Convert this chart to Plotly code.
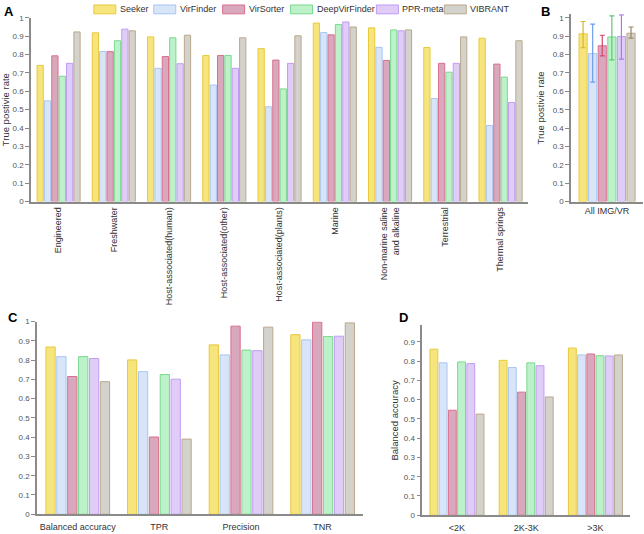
import plotly.graph_objects as go

W, H = 644, 534

tools = ["Seeker", "VirFinder", "VirSorter", "DeepVirFinder", "PPR-meta", "VIBRANT"]
fills = ["#f6e47c", "#d8e5f8", "#d9a8bc", "#bdf1c9", "#dfcdf7", "#d4d2cc"]
edges = ["#e8c93e", "#a9c5f2", "#d8708f", "#7ad990", "#c19cf3", "#b9a98a"]
whisk = ["#d8b428", "#6d9de8", "#d4456f", "#5cc877", "#a678ef", "#a08464"]

# panel A: true positive rate per environment
environments = ["Engineered", "Freshwater", "Host-associated(human)", "Host-associated(other)",
                "Host-associated(plants)", "Marine", "Non-marine saline<br>and alkaline",
                "Terrestrial", "Thermal springs"]
env_seeker = [0.741, 0.918, 0.896, 0.795, 0.832, 0.971, 0.945, 0.838, 0.889]
env_virfinder = [0.548, 0.816, 0.725, 0.634, 0.516, 0.920, 0.839, 0.561, 0.414]
env_virsorter = [0.793, 0.816, 0.789, 0.795, 0.770, 0.907, 0.768, 0.752, 0.748]
env_deepvirfinder = [0.682, 0.875, 0.891, 0.795, 0.613, 0.963, 0.934, 0.704, 0.677]
env_pprmeta = [0.752, 0.938, 0.750, 0.725, 0.752, 0.977, 0.929, 0.752, 0.539]
env_vibrant = [0.923, 0.929, 0.905, 0.891, 0.902, 0.950, 0.934, 0.896, 0.875]

# panel B: all IMG/VR, mean with asymmetric error
all_label = ["All IMG/VR"]
all_tpr = [0.913, 0.805, 0.848, 0.896, 0.898, 0.916]
all_err_up = [0.067, 0.161, 0.057, 0.114, 0.118, 0.034]
all_err_down = [0.076, 0.155, 0.055, 0.125, 0.123, 0.027]

# panel C: overall metrics
metrics = ["Balanced accuracy", "TPR", "Precision", "TNR"]
met_seeker = [0.868, 0.801, 0.879, 0.932]
met_virfinder = [0.818, 0.740, 0.827, 0.905]
met_virsorter = [0.715, 0.401, 0.976, 0.997]
met_deepvirfinder = [0.818, 0.725, 0.852, 0.922]
met_pprmeta = [0.808, 0.701, 0.849, 0.924]
met_vibrant = [0.688, 0.390, 0.971, 0.993]

# panel D: balanced accuracy by length
lengths = ["<2K", "2K-3K", ">3K"]
len_seeker = [0.862, 0.804, 0.868]
len_virfinder = [0.791, 0.767, 0.832]
len_virsorter = [0.545, 0.639, 0.837]
len_deepvirfinder = [0.796, 0.791, 0.828]
len_pprmeta = [0.787, 0.776, 0.827]
len_vibrant = [0.525, 0.614, 0.832]

env_vals = [env_seeker, env_virfinder, env_virsorter, env_deepvirfinder, env_pprmeta, env_vibrant]
met_vals = [met_seeker, met_virfinder, met_virsorter, met_deepvirfinder, met_pprmeta, met_vibrant]
len_vals = [len_seeker, len_virfinder, len_virsorter, len_deepvirfinder, len_pprmeta, len_vibrant]


def px(x):
    return x / W


def py(y):
    return 1 - y / H


fig = go.Figure()

for i, t in enumerate(tools):
    mk = dict(color=fills[i], line=dict(color=edges[i], width=1))
    fig.add_trace(go.Bar(x=environments, y=env_vals[i], name=t, marker=mk,
                         xaxis="x", yaxis="y", showlegend=False))
    fig.add_trace(go.Bar(x=all_label, y=[all_tpr[i]], name=t, marker=mk,
                         error_y=dict(type="data", symmetric=False, array=[all_err_up[i]],
                                      arrayminus=[all_err_down[i]], color=whisk[i],
                                      thickness=1.2, width=2.5),
                         xaxis="x2", yaxis="y2", showlegend=False))
    fig.add_trace(go.Bar(x=metrics, y=met_vals[i], name=t, marker=mk,
                         xaxis="x3", yaxis="y3", showlegend=False))
    fig.add_trace(go.Bar(x=lengths, y=len_vals[i], name=t, marker=mk,
                         xaxis="x4", yaxis="y4", showlegend=False))

axcol = "#8a8a8a"
tickfont = dict(size=8, color="#555")
catfont = dict(size=9, color="#333")


def xax(x0, x1, anchor, angle=0, standoff=0):
    return dict(domain=[px(x0), px(x1)], anchor=anchor, showline=True, linecolor=axcol,
                linewidth=2, ticks="", tickfont=catfont, tickangle=angle,
                ticklabelstandoff=standoff,
                showgrid=False, zeroline=False, fixedrange=True)


def yax(y0, y1, anchor, rng, title=None, standoff=8):
    d = dict(domain=[py(y0), py(y1)], anchor=anchor, range=rng, dtick=0.1, tick0=0,
             showline=True, linecolor=axcol, linewidth=1.5, ticks="outside", ticklen=4,
             tickcolor=axcol, tickwidth=1, tickfont=tickfont, showgrid=False,
             zeroline=False, fixedrange=True)
    if title:
        d["title"] = dict(text=title, font=dict(size=9.5, color="#333"), standoff=standoff)
    return d


fig.update_layout(
    width=W, height=H,
    margin=dict(l=0, r=0, t=0, b=0),
    paper_bgcolor="white", plot_bgcolor="white",
    font=dict(family="Liberation Sans, Arial, sans-serif"),
    barmode="group", bargap=0.2, bargroupgap=0.15,
    xaxis=xax(30, 528, "y", angle=-90),
    yaxis=yax(201, 14, "x", [0, 1], "True postivie rate", standoff=6),
    xaxis2=xax(571, 643, "y2"),
    yaxis2=yax(201, 10.3, "x2", [0, 1.02], "True postivie rate", standoff=6),
    xaxis3=xax(36, 363, "y3", standoff=3),
    yaxis3=yax(519, 323, "x3", [0, 1]),
    xaxis4=xax(422, 630, "y4", standoff=3),
    yaxis4=yax(520, 327, "x4", [0, 0.985], "Balanced accuracy", standoff=4),
    showlegend=False,
)

# panel letters
for letter, lx, ly in [("A", 8, 8), ("B", 545, 8), ("C", 12, 319), ("D", 403, 319)]:
    fig.add_annotation(x=px(lx), y=py(ly), xref="paper", yref="paper", text="<b>%s</b>" % letter,
                       xanchor="center", yanchor="middle",
                       showarrow=False, font=dict(size=13, color="black"))

# legend along the top
swatch_x = [93, 153, 222, 290, 376, 444]
for i, t in enumerate(tools):
    x0 = swatch_x[i]
    fig.add_shape(type="rect", xref="paper", yref="paper",
                  x0=px(x0), x1=px(x0 + 22), y0=py(10), y1=py(1),
                  fillcolor=fills[i], line=dict(color=edges[i], width=1))
    fig.add_annotation(x=px(x0 + 24), y=py(5.5), xref="paper", yref="paper", text=t,
                       xanchor="left", yanchor="middle", showarrow=False,
                       font=dict(size=9, color="#333"))

fig.write_html("out.html", config={"displayModeBar": False},
               post_script="document.body.style.margin='0';")
